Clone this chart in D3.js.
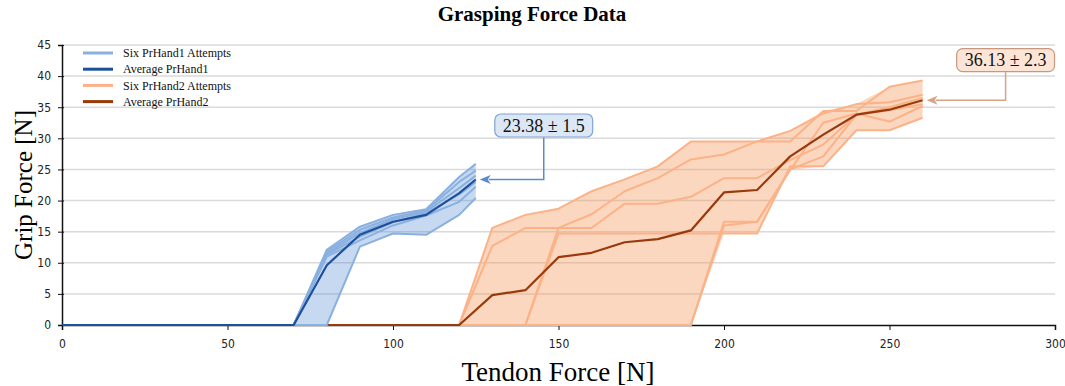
<!DOCTYPE html>
<html lang="en">
<head>
  <meta charset="UTF-8" />
  <title>Grasping Force Data</title>
  <script src="https://d3js.org/d3.v7.min.js"></script>
  <style>
    body { margin: 0; background: white; }
    .tick text { font-family: "Liberation Sans Narrow", "DejaVu Sans Condensed", "Open Sans", sans-serif; font-size: 12px; fill: #222; }
    .serif { font-family: "Liberation Serif", "DejaVu Serif", serif; }
  </style>
</head>
<body>
  <svg id="chart"></svg>
  <script>
    // tendon force steps (N) and grip force readings (N)
    const tendonHand1 = [0, 70, 80, 90, 100, 110, 120, 125];
    const hand1Attempts = [
      [0, 0, 12.1, 15.8, 17.7, 18.6, 23.8, 25.9],
      [0, 0, 11.8, 15.3, 17.3, 18.4, 23.0, 24.8],
      [0, 0, 11.5, 14.8, 17.0, 18.2, 22.0, 24.0],
      [0, 0, 11.3, 14.2, 16.5, 18.0, 21.0, 23.0],
      [0, 0, 11.0, 13.6, 16.0, 17.6, 19.8, 22.2],
      [0, 0, 0, 12.6, 14.7, 14.5, 17.7, 20.4]
    ];
    const hand1Average = [0, 0, 9.6, 14.5, 16.6, 17.7, 21.2, 23.38];

    const tendonHand2 = [0, 120, 130, 140, 150, 160, 170, 180, 190, 200, 210, 220, 230, 240, 250, 260];
    const hand2Attempts = [
      [0, 0, 15.6, 17.7, 18.7, 21.5, 23.4, 25.5, 29.5, 29.5, 29.5, 29.5, 34.4, 34.4, 38.3, 39.3],
      [0, 0, 12.7, 15.6, 15.6, 17.8, 21.5, 23.6, 26.6, 27.4, 29.5, 31.2, 34.0, 35.5, 35.8, 37.0],
      [0, 0, 0, 0, 15.6, 15.6, 19.5, 19.5, 20.6, 23.6, 23.6, 26.5, 29.0, 33.8, 35.0, 36.5],
      [0, 0, 0, 0, 14.7, 14.7, 14.7, 14.7, 14.7, 14.7, 14.7, 25.5, 25.5, 31.3, 31.3, 33.3],
      [0, 0, 0, 0, 0, 0, 0, 0, 0, 16.6, 16.6, 25.0, 27.1, 33.8, 34.5, 35.5],
      [0, 0, 0, 0, 0, 0, 0, 0, 0, 16.0, 16.6, 24.9, 32.5, 34.0, 32.7, 35.2]
    ];
    const hand2Average = [0, 0, 4.8, 5.6, 10.9, 11.6, 13.3, 13.8, 15.2, 21.3, 21.7, 27.1, 30.6, 33.8, 34.6, 36.13];

    const xTicks = [0, 50, 100, 150, 200, 250, 300];
    const yTicks = [0, 5, 10, 15, 20, 25, 30, 35, 40, 45];
    const legendLabels = ["Six PrHand1 Attempts", "Average PrHand1", "Six PrHand2 Attempts", "Average PrHand2"];
    const annotationLabels = ["23.38 \u00b1 1.5", "36.13 \u00b1 2.3"];

    const width = 1065, height = 386;
    const svg = d3.select("#chart").attr("width", width).attr("height", height);

    const x = d3.scaleLinear().domain([0, 300]).range([62, 1055]);
    const y = d3.scaleLinear().domain([0, 45]).range([325, 45]);

    const colors = {
      h1Fill: "rgba(70,130,210,0.3)", h1Line: "#8ab0e0", h1Avg: "#1d4f9b",
      h2Fill: "rgba(248,150,90,0.38)", h2Line: "#fbb287", h2Avg: "#983a0b"
    };

    // gridlines
    svg.append("g").selectAll("line")
      .data(yTicks.filter(d => d > 0))
      .enter().append("line")
      .attr("x1", x(0)).attr("x2", x(300))
      .attr("y1", d => y(d)).attr("y2", d => y(d))
      .attr("stroke", "#dadada").attr("stroke-width", 1.5);

    // axes
    const yAxis = svg.append("g")
      .attr("transform", `translate(${x(0)},0)`)
      .call(d3.axisLeft(y).tickValues(yTicks).tickSizeOuter(0).tickSize(4).tickPadding(7));
    yAxis.selectAll(".tick line").attr("x1", 2);
    svg.append("g")
      .attr("transform", `translate(0,${y(0)})`)
      .call(d3.axisBottom(x).tickValues(xTicks).tickSizeOuter(0).tickSize(5).tickPadding(9));
    svg.selectAll(".domain").attr("stroke", "#111").attr("stroke-width", 1.5);
    svg.selectAll(".tick line").attr("stroke", "#111");

    function drawHand(tendon, attempts, avg, fill, lineColor, avgColor) {
      const g = svg.append("g");
      const idx = d3.range(tendon.length);
      const area = d3.area()
        .x(i => x(tendon[i]))
        .y0(i => y(d3.min(attempts, a => a[i])))
        .y1(i => y(d3.max(attempts, a => a[i])));
      g.append("path").datum(idx).attr("d", area).attr("fill", fill);
      const line = d3.line().x((d, i) => x(tendon[i])).y(d => y(d));
      g.selectAll(".attempt").data(attempts).enter().append("path")
        .attr("class", "attempt")
        .attr("d", line).attr("fill", "none")
        .attr("stroke", lineColor).attr("stroke-width", 2).attr("stroke-linejoin", "round");
      g.append("path").datum(avg).attr("d", line).attr("fill", "none")
        .attr("stroke", avgColor).attr("stroke-width", 2.2).attr("stroke-linejoin", "round");
    }

    drawHand(tendonHand2, hand2Attempts, hand2Average, colors.h2Fill, colors.h2Line, colors.h2Avg);
    drawHand(tendonHand1, hand1Attempts, hand1Average, colors.h1Fill, colors.h1Line, colors.h1Avg);

    // annotations
    function annotate(px, py, dx, dy, label, boxFill, boxStroke, arrowColor) {
      const g = svg.append("g");
      const bx = px + dx, by = py + dy;
      const tipX = px + 4;
      g.append("path")
        .attr("d", `M${bx},${by + 12} V${py} H${tipX + 9}`)
        .attr("fill", "none").attr("stroke", arrowColor).attr("stroke-width", 1.5);
      g.append("path")
        .attr("d", `M${tipX},${py} L${tipX + 11},${py - 4.5} L${tipX + 8},${py} L${tipX + 11},${py + 4.5} Z`)
        .attr("fill", arrowColor);
      const t = g.append("text").attr("class", "serif")
        .attr("x", bx).attr("y", by).attr("dy", "0.35em")
        .attr("text-anchor", "middle").attr("font-size", 18).attr("fill", "#111")
        .text(label);
      const bb = t.node().getBBox();
      g.insert("rect", "text")
        .attr("x", bb.x - 8).attr("y", by - 11.5)
        .attr("width", bb.width + 16).attr("height", 23)
        .attr("rx", 6).attr("fill", boxFill).attr("stroke", boxStroke).attr("stroke-width", 1.2);
    }
    const last1 = tendonHand1.length - 1, last2 = tendonHand2.length - 1;
    annotate(x(tendonHand1[last1]), y(hand1Average[last1]), 68, -54, annotationLabels[0], "#dce7f6", "#7ea4d8", "#5a8ccc");
    annotate(x(tendonHand2[last2]), y(hand2Average[last2]), 83, -40, annotationLabels[1], "#fce5d7", "#c8977f", "#d8a38b");

    // legend
    const legendColors = [colors.h1Line, colors.h1Avg, colors.h2Line, colors.h2Avg];
    const legend = svg.append("g").selectAll("g").data(legendLabels).enter().append("g")
      .attr("transform", (d, i) => `translate(83,${53 + i * 16.2})`);
    legend.append("line").attr("x1", 0).attr("x2", 30)
      .attr("stroke", (d, i) => legendColors[i]).attr("stroke-width", 3);
    legend.append("text").attr("class", "serif")
      .attr("x", 40).attr("dy", "0.35em").attr("font-size", 12).attr("fill", "#111")
      .text(d => d);

    // titles
    svg.append("text").attr("class", "serif")
      .attr("x", 532).attr("y", 21).attr("text-anchor", "middle")
      .attr("font-size", 21).attr("font-weight", "bold").text("Grasping Force Data");
    svg.append("text").attr("class", "serif")
      .attr("x", 558).attr("y", 381).attr("text-anchor", "middle")
      .attr("font-size", 27).text("Tendon Force [N]");
    svg.append("text").attr("class", "serif")
      .attr("transform", "translate(32,185) rotate(-90)").attr("text-anchor", "middle")
      .attr("font-size", 25).text("Grip Force [N]");
  </script>
</body>
</html>
